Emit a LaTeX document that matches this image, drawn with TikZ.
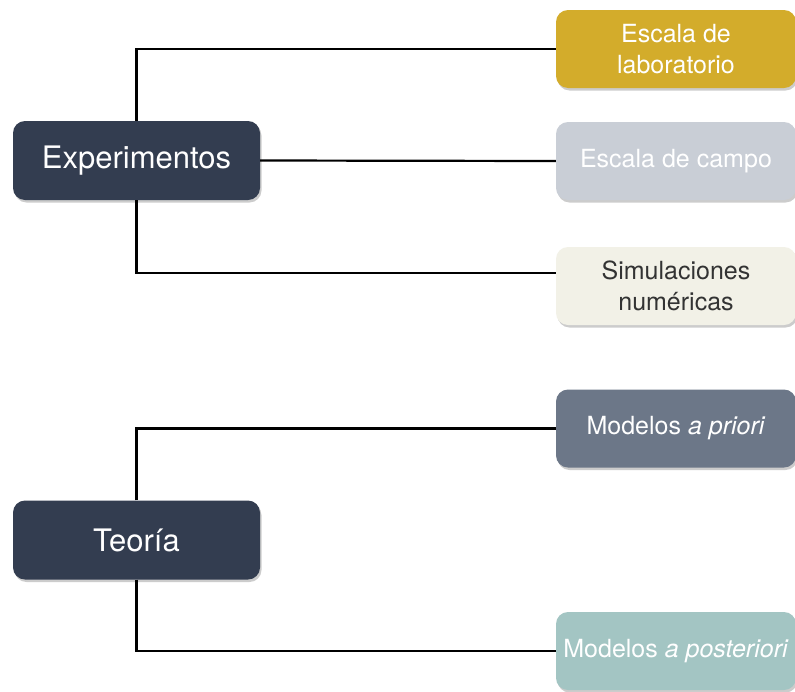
\documentclass[tikz,border=0pt]{standalone}
\usepackage{fontspec}
\setmainfont{TeX Gyre Heros}
\usetikzlibrary{positioning, shadows}
\definecolor{navy}{HTML}{333D50}
\definecolor{gold}{HTML}{D3AC2B}
\definecolor{mist}{HTML}{C9CED6}
\definecolor{cream}{HTML}{F2F1E7}
\definecolor{slate}{HTML}{6C7788}
\definecolor{sage}{HTML}{A3C5C3}
\tikzstyle{link} = [line width=2.2pt]

\begin{document}
\begin{tikzpicture}[x=1pt, y=1pt,
            base/.style={rounded corners=12pt, align=center, inner sep=2pt,
                drop shadow={shadow xshift=1.5pt, shadow yshift=-2.5pt, opacity=0.4}},
            topic/.style={base, fill=navy, text=white, minimum width=247pt,
                minimum height=79pt, font=\fontsize{31}{35}\selectfont},
            leaf/.style={base, minimum width=240pt, minimum height=78pt,
                font=\fontsize{25}{31}\selectfont}
        ]
            \useasboundingbox (0,0) rectangle (795,-691);
            \fill[white] (0,0) rectangle (795,-691);

            % main topics
            \node[topic] (exp) at (136.5,-160.5) {Experimentos};
            \node[topic] (teo) at (136.5,-540) {Teoría};

            % branches
            \node[leaf, fill=gold, text=white] (lab) at (676,-49) {Escala de\\laboratorio};
            \node[leaf, fill=mist, text=white] (campo) at (676,-161) {Escala de campo};
            \node[leaf, fill=cream, text=black!80] (sim) at (676,-286) {Simulaciones\\numéricas};
            \node[leaf, fill=slate, text=white] (prior) at (676,-428.5) {Modelos \textit{a priori}};
            \node[leaf, fill=sage, text=white] (post) at (676,-651) {Modelos \textit{a posteriori}};

            \draw[link] (exp.north) |- (lab.west);
            \draw[link] (exp.east) -- (campo.west);
            \draw[link] (exp.south) |- ([yshift=13pt]sim.west);
            \draw[link] (teo.north) |- (prior.west);
            \draw[link] (teo.south) |- (post.west);
        \end{tikzpicture}
\end{document}
